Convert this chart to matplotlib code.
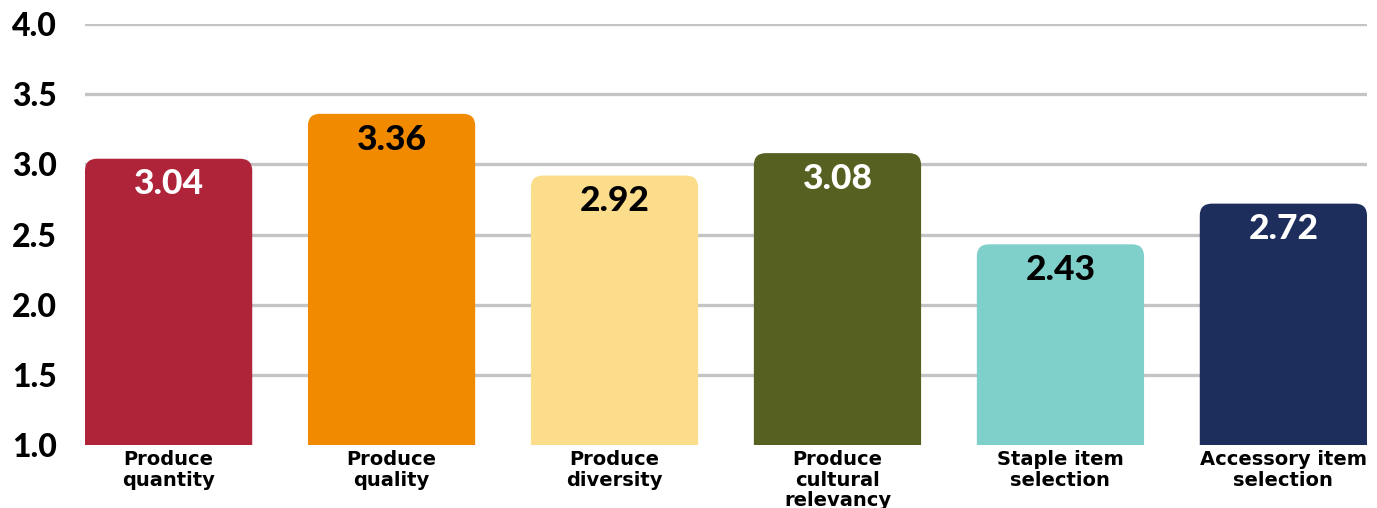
import matplotlib
matplotlib.use("Agg")
import matplotlib.pyplot as plt
from matplotlib.path import Path
from matplotlib.patches import PathPatch

categories = ["Produce\nquantity", "Produce\nquality", "Produce\ndiversity",
              "Produce\ncultural\nrelevancy", "Staple item\nselection", "Accessory item\nselection"]
values = [3.04, 3.36, 2.92, 3.08, 2.43, 2.72]
colors = ["#B0243A", "#F28A00", "#FCDD8C", "#566121", "#7FCFCB", "#1D2D5C"]
label_colors = ["white", "black", "black", "white", "black", "white"]
yticks = [1.0, 1.5, 2.0, 2.5, 3.0, 3.5, 4.0]

plt.rcParams['font.family'] = ['Lato', 'DejaVu Sans']

fig = plt.figure(figsize=(13.77, 5.08), dpi=100)
ax = fig.add_axes([85/1377, 1-445/508, (1367-85)/1377, (445-24)/508])

base = 1.0
width = 0.75
x = list(range(len(values)))
bars = ax.bar(x, [v - base for v in values], bottom=base, width=width, color=colors)
ax.set_xlim(-0.375, len(values) - 1 + 0.375)
ax.set_ylim(1.0, 4.0)

# gridlines
for t in yticks[1:]:
    ax.axhline(t, color="#C4C4C4", lw=2.4, zorder=0)

# rounded top corners
rx, ry = 0.055, 0.085
for b in bars:
    x0, y0 = b.get_x(), b.get_y()
    x1, y1 = x0 + b.get_width(), y0 + b.get_height()
    verts = [(x0, y0), (x1, y0), (x1, y1 - ry), (x1, y1), (x1 - rx, y1),
             (x0 + rx, y1), (x0, y1), (x0, y1 - ry), (x0, y0)]
    codes = [Path.MOVETO, Path.LINETO, Path.LINETO, Path.CURVE3, Path.CURVE3,
             Path.LINETO, Path.CURVE3, Path.CURVE3, Path.CLOSEPOLY]
    patch = PathPatch(Path(verts, codes), facecolor=b.get_facecolor(), edgecolor="none", zorder=2)
    ax.add_patch(patch)
    b.set_visible(False)

for xi, v, c in zip(x, values, label_colors):
    ax.annotate(f"{v:.2f}", (xi, v), xytext=(0, -7), textcoords="offset points",
                ha="center", va="top", fontsize=25.5, fontweight="black", color=c, zorder=3)

ax.set_yticks(yticks)
ax.set_yticklabels([f"{t:.1f}" for t in yticks], fontsize=23, fontweight="black")
ax.set_xticks(x)
ax.set_xticklabels(categories, fontsize=14, fontweight="bold", linespacing=1.12,
                   family=["DejaVu Sans"])
ax.tick_params(axis="y", length=0, pad=20)
ax.tick_params(axis="x", length=0, pad=3.5)
for s in ax.spines.values():
    s.set_visible(False)

fig.savefig("out.png", dpi=100)
